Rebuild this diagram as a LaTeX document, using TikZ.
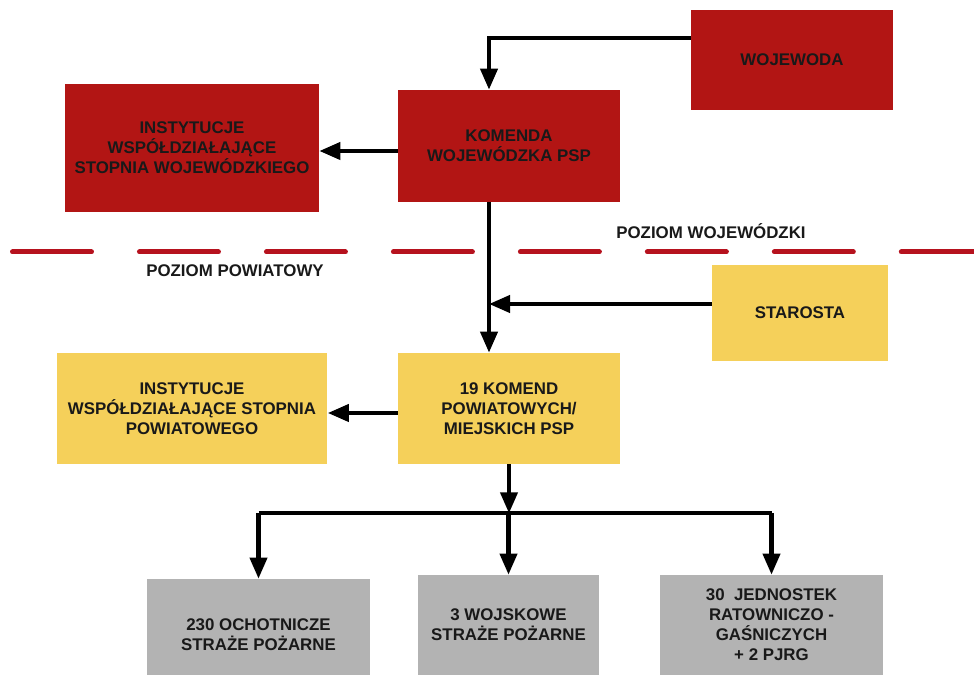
\documentclass[tikz,border=0pt]{standalone}
\usepackage{fontspec}
\setmainfont{Liberation Sans}
\usetikzlibrary{arrows.meta}

\definecolor{wojred}{RGB}{178,21,20}
\definecolor{powyellow}{RGB}{245,208,90}
\definecolor{ospgray}{RGB}{179,179,179}
\definecolor{linered}{RGB}{182,18,30}
\definecolor{txt}{RGB}{25,25,25}

\tikzset{
	box/.style={rectangle, inner sep=0pt, align=center, text=txt,
		font=\fontsize{9.6}{11.4}\selectfont\bfseries},
	redbox/.style={box, fill=wojred},
	yellowbox/.style={box, fill=powyellow},
	graybox/.style={box, fill=ospgray},
	lvl/.style={text=txt, inner sep=0pt, font=\fontsize{9.6}{11.4}\selectfont\bfseries},
	link/.style={line width=2.3pt},
	arr/.style={link, -{Triangle[length=0.42cm,width=0.34cm]}}
}

\begin{document}
\begin{tikzpicture}[x=0.02cm, y=-0.02cm] % pixels
		\useasboundingbox (0,0) rectangle (974,675);

		% poziom wojewodzki
		\node[redbox, minimum width=4.04cm, minimum height=2.02cm] (woj) at (792,60) {WOJEWODA};
		\node[redbox, minimum width=4.44cm, minimum height=2.24cm] (kwpsp) at (509,146) {KOMENDA\\WOJEWÓDZKA PSP};
		\node[redbox, minimum width=5.08cm, minimum height=2.56cm] (instw) at (192,148) {INSTYTUCJE\\WSPÓŁDZIAŁAJĄCE\\STOPNIA WOJEWÓDZKIEGO};

		\draw[linered, line width=0.1cm, line cap=round, dash pattern=on 1.58cm off 0.96cm] (12.5,252) -- (974,252);
		\node[lvl] (lvlw) at (711,231) {POZIOM WOJEWÓDZKI};
		\node[lvl] (lvlp) at (235,271) {POZIOM POWIATOWY};

		% poziom powiatowy
		\node[yellowbox, minimum width=3.52cm, minimum height=1.92cm] (starosta) at (800,313) {STAROSTA};
		\node[yellowbox, minimum width=4.44cm, minimum height=2.22cm] (kmpsp) at (509,408.5) {19 KOMEND\\POWIATOWYCH/\\MIEJSKICH PSP};
		\node[yellowbox, minimum width=5.42cm, minimum height=2.22cm] (instp) at (192,408.5) {INSTYTUCJE\\WSPÓŁDZIAŁAJĄCE STOPNIA\\POWIATOWEGO};

		\node[graybox, minimum width=4.46cm, minimum height=2.22cm] (osp) at (258.5,634.5) {230 OCHOTNICZE\\STRAŻE POŻARNE};
		\node[graybox, minimum width=3.62cm, minimum height=2.0cm] (wsp) at (508.5,625) {3 WOJSKOWE\\STRAŻE POŻARNE};
		\node[graybox, minimum width=4.46cm, minimum height=2.0cm] (jrg) at (771.5,625) {30~~JEDNOSTEK\\RATOWNICZO -\\GAŚNICZYCH\\+ 2 PJRG};

		% polaczenia
		\coordinate (wojout) at ([yshift=0.44cm]woj.west);
		\coordinate (kwin) at ([xshift=-0.4cm]kwpsp.north);
		\coordinate (trunk) at ([xshift=-0.4cm]kwpsp.south);
		\coordinate (kmin) at ([xshift=-0.4cm]kmpsp.north);
		\coordinate (stout) at ([yshift=0.18cm]starosta.west);
		\coordinate (kwout) at ([yshift=-0.1cm]kwpsp.west);
		\coordinate (kmout) at ([yshift=-0.09cm]kmpsp.west);
		\coordinate (split) at ([yshift=-0.98cm]kmpsp.south);

		\draw[arr] (wojout) -| (kwin);
		\draw[arr] (kwout) -- (kwout -| instw.east);
		\draw[arr] (trunk) -- (kmin);
		\draw[arr] (stout) -- (stout -| trunk);
		\draw[arr] (kmout) -- (kmout -| instp.east);

		\draw[arr] (kmpsp.south) -- (split);
		\draw[link] (osp.north |- split) -- (jrg.north |- split);
		\foreach \n in {osp,wsp,jrg}
			\draw[arr] (\n.north |- split) -- (\n.north);
\end{tikzpicture}
\end{document}
